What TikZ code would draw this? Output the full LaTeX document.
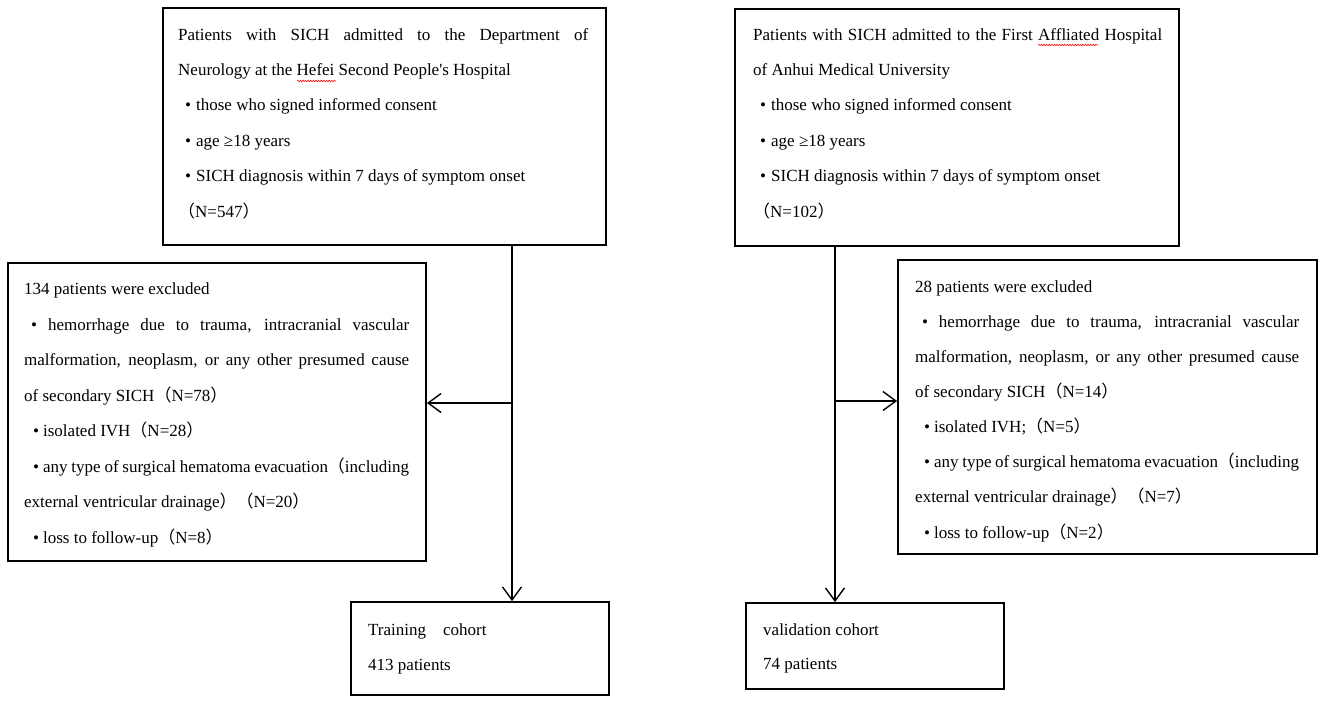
\documentclass[tikz,border=0pt]{standalone}
\usepackage{fontspec}
\setmainfont{Liberation Serif}
\newfontfamily\cjkf{Noto Sans CJK SC}
\usetikzlibrary{arrows.meta,decorations.pathmorphing}
\newcommand\fwl{{\cjkf （}}
\newcommand\fwr{{\cjkf ）}}
\newcommand\bulA{\hspace*{7pt}•\hspace{5pt}}
\newcommand\bulB{\hspace*{9pt}•\hspace{4pt}}
\newcommand\jl[1]{\makebox[\linewidth][s]{#1}}
\begin{document}
\begin{tikzpicture}[x=1pt,y=-1pt,
  box/.style={draw=black, line width=1.8pt, rectangle, inner sep=0pt, fill=white},
  txt/.style={inner sep=0pt, font=\fontsize{17pt}{35.4pt}\selectfont, anchor=base west},
  arr/.style={line width=1.4pt, -{Straight Barb[length=13pt,width=19pt,line width=1.4pt]}},
  squig/.style={red, line width=0.6pt, decorate, decoration={snake, amplitude=0.7pt, segment length=2.6pt}}]
\useasboundingbox[fill=white] (0,0) rectangle (1325,702);

% boxes
\node[box, minimum width=443pt, minimum height=237pt] (tl) at (384.5,126.5) {};
\node[box, minimum width=444pt, minimum height=237pt] (tr) at (957,127.5) {};
\node[box, minimum width=418pt, minimum height=298pt] (ml) at (217,412) {};
\node[box, minimum width=419pt, minimum height=294pt] (mr) at (1107.5,407) {};
\node[box, minimum width=258pt, minimum height=93pt] (train) at (480,648.5) {};
\node[box, minimum width=258pt, minimum height=86pt] (valid) at (875,646) {};

% texts
\node[txt] (tlt) at (178,40) {\parbox[t]{410pt}{\raggedright
\jl{Patients with SICH admitted to the Department of}\\
Neurology at the Hefei Second People\textquotesingle s Hospital\\
\bulA those who signed informed consent\\
\bulA age ≥18 years\\
\bulA SICH diagnosis within 7 days of symptom onset\\
\fwl N=547\fwr}};

\node[txt] (trt) at (753,40) {\parbox[t]{409pt}{\raggedright
\jl{Patients with SICH admitted to the First Affliated Hospital}\\
of Anhui Medical University\\
\bulA those who signed informed consent\\
\bulA age ≥18 years\\
\bulA SICH diagnosis within 7 days of symptom onset\\
\fwl N=102\fwr}};

\node[txt, font=\fontsize{17pt}{35.5pt}\selectfont] (mlt) at (24,294.5) {\parbox[t]{385pt}{\raggedright
134 patients were excluded\\
\jl{\hspace*{7pt}• hemorrhage due to trauma, intracranial vascular}\\
\jl{malformation, neoplasm, or any other presumed cause}\\
of secondary SICH\fwl N=78\fwr\\
\bulB isolated IVH\fwl N=28\fwr\\
\jl{\bulB any type of surgical hematoma evacuation\fwl including}\\
external ventricular drainage\fwr\fwl N=20\fwr\\
\bulB loss to follow-up\fwl N=8\fwr}};

\node[txt, font=\fontsize{17pt}{35.15pt}\selectfont] (mrt) at (915,292) {\parbox[t]{384pt}{\raggedright
28 patients were excluded\\
\jl{\hspace*{7pt}• hemorrhage due to trauma, intracranial vascular}\\
\jl{malformation, neoplasm, or any other presumed cause}\\
of secondary SICH\fwl N=14\fwr\\
\bulB isolated IVH;\fwl N=5\fwr\\
\jl{\bulB any type of surgical hematoma evacuation\fwl including}\\
external ventricular drainage\fwr\fwl N=7\fwr\\
\bulB loss to follow-up\fwl N=2\fwr}};

\node[txt, font=\fontsize{17pt}{35pt}\selectfont] (traint) at (368,635) {\parbox[t]{220pt}{\raggedright
Training\hspace{17pt}cohort\\
413 patients}};

\node[txt, font=\fontsize{17pt}{34pt}\selectfont] (validt) at (763,635) {\parbox[t]{220pt}{\raggedright
validation cohort\\
74 patients}};

% spell-check squiggles
\coordinate (sq1a) at (297,81); \coordinate (sq1b) at (336,81);
\coordinate (sq2a) at (1038,45); \coordinate (sq2b) at (1098,45);
\draw[squig] (sq1a) -- (sq1b);
\draw[squig] (sq2a) -- (sq2b);

% connectors
\coordinate (lx) at (512,403);
\coordinate (rx) at (835,401);
\draw[arr] (tl.south -| lx) -- (train.north -| lx);
\draw[arr] (lx) -- (lx -| ml.east);
\draw[arr] (tr.south -| rx) -- (valid.north -| rx);
\draw[arr] (rx) -- (rx -| mr.west);
\end{tikzpicture}
\end{document}
